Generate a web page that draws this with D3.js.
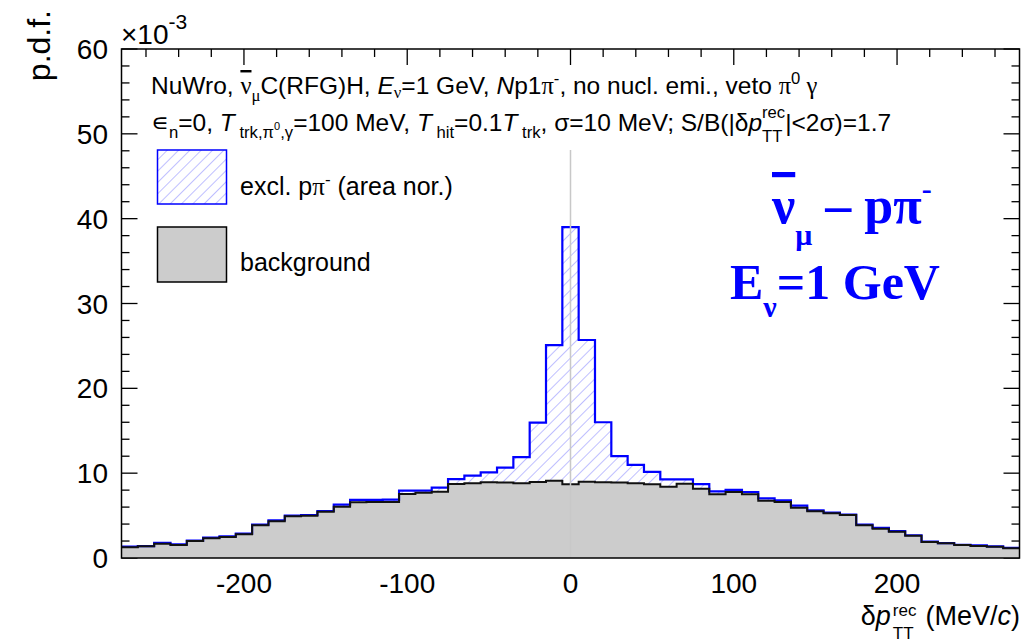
<!DOCTYPE html>
<html>
<head>
<meta charset="utf-8">
<script src="https://cdn.jsdelivr.net/npm/d3@7"></script>
<style>
  body { margin: 0; background: #fff; }
  text { fill: #000; }
</style>
</head>
<body>
<div id="chart"></div>
<script>
// bins of 10 MeV/c from -275 to 275 (centres)
var binCentres = d3.range(-270, 271, 10);

// background (grey), in units of 1e-3
var background = [
  1.26, 1.38, 1.69, 1.53, 2.00, 2.32, 2.48, 2.79, 3.85, 4.33,
  4.91, 4.99, 5.46, 6.05, 6.57, 6.60, 6.60, 7.55, 7.70, 7.80,
  8.72, 8.80, 8.92, 8.90, 8.80, 8.96, 9.10, 8.70, 9.00, 8.92,
  8.90, 8.80, 8.70, 8.41, 8.76, 8.17, 7.51, 7.78, 7.51, 6.76,
  6.60, 5.93, 5.50, 5.27, 5.07, 3.85, 3.46, 3.10, 2.63, 1.89,
  1.73, 1.53, 1.42, 1.33, 1.14
];

// excl. p pi- stacked on top of background (blue outline), units of 1e-3
var exclStacked = [
  1.33, 1.40, 1.80, 1.60, 2.05, 2.40, 2.56, 2.87, 3.93, 4.45,
  4.99, 5.07, 5.54, 6.30, 6.84, 6.84, 6.87, 7.94, 7.94, 8.30,
  9.30, 9.70, 10.10, 10.65, 11.90, 15.96, 25.10, 39.00, 25.70, 16.00,
  12.00, 10.97, 10.15, 9.28, 9.28, 8.70, 7.86, 8.02, 7.78, 7.04,
  6.80, 6.17, 5.62, 5.35, 5.12, 3.93, 3.55, 3.17, 2.68, 1.93,
  1.76, 1.56, 1.48, 1.36, 1.20
];

var xTickLabels = [-200, -100, 0, 100, 200];
var yTickLabels = [0, 10, 20, 30, 40, 50, 60];

var svgWidth = 1022;
var svgHeight = 643;
var sans = "'Liberation Sans', Arial, sans-serif";
var greek = "'Liberation Serif', serif";

var svg = d3.select("#chart")
  .append("svg")
  .attr("width", svgWidth)
  .attr("height", svgHeight)
  .style("font-family", sans);

svg.append("rect").attr("width", svgWidth).attr("height", svgHeight).attr("fill", "#fff");

var x = d3.scaleLinear().domain([-275, 275]).range([121.5, 1019.5]);
var y = d3.scaleLinear().domain([0, 60]).range([558, 49]);

// hatch pattern
var defs = svg.append("defs");
defs.append("pattern")
  .attr("id", "hatch")
  .attr("patternUnits", "userSpaceOnUse")
  .attr("width", 8).attr("height", 8)
  .attr("patternTransform", "rotate(45)")
  .append("line")
  .attr("x1", 0).attr("y1", 0).attr("x2", 0).attr("y2", 8)
  .attr("stroke", "#7070ff")
  .attr("stroke-width", 0.9);

// ticks (drawn first; the filled histogram covers them like in ROOT)
var ticks = svg.append("g").attr("stroke", "#000").attr("stroke-width", 1.3);
d3.range(0, 61, 2).forEach(function(v) {
  var len = v % 10 === 0 ? 16 : 8;
  ticks.append("line").attr("x1", x.range()[0]).attr("x2", x.range()[0] + len)
    .attr("y1", y(v)).attr("y2", y(v));
  ticks.append("line").attr("x1", x.range()[1]).attr("x2", x.range()[1] - len)
    .attr("y1", y(v)).attr("y2", y(v));
});
d3.range(-260, 261, 20).forEach(function(v) {
  var len = v % 100 === 0 ? 16 : 8;
  ticks.append("line").attr("x1", x(v)).attr("x2", x(v))
    .attr("y1", y(60)).attr("y2", y(60) + len);
  ticks.append("line").attr("x1", x(v)).attr("x2", x(v))
    .attr("y1", y(0)).attr("y2", y(0) - len);
});

// step points for a histogram
function stepPoints(values) {
  var pts = [];
  values.forEach(function(v, i) {
    pts.push([binCentres[i] - 5, v]);
    pts.push([binCentres[i] + 5, v]);
  });
  return pts;
}

var area = d3.area()
  .x(d => x(d[0]))
  .y0(y(0))
  .y1(d => y(d[1]));

var line = d3.line()
  .x(d => x(d[0]))
  .y(d => y(d[1]));

var exclPts = stepPoints(exclStacked);
var bkgPts = stepPoints(background);

svg.append("path").attr("d", area(exclPts)).attr("fill", "url(#hatch)");
svg.append("path").attr("d", area(bkgPts)).attr("fill", "#cccccc");
svg.append("path").attr("d", line(exclPts))
  .attr("fill", "none").attr("stroke", "#0000ff").attr("stroke-width", 2.2);
svg.append("path").attr("d", line(bkgPts))
  .attr("fill", "none").attr("stroke", "#111").attr("stroke-width", 2);

// vertical line at 0
svg.append("line")
  .attr("x1", x(0)).attr("x2", x(0))
  .attr("y1", 150).attr("y2", y(0))
  .attr("stroke", "#c8c8c8").attr("stroke-width", 1.5);

// frame
svg.append("rect")
  .attr("x", x.range()[0]).attr("y", y(60))
  .attr("width", x.range()[1] - x.range()[0])
  .attr("height", y(0) - y(60))
  .attr("fill", "none").attr("stroke", "#000").attr("stroke-width", 1.5);

// tick labels
svg.selectAll(".xl").data(xTickLabels).enter().append("text")
  .attr("x", d => x(d)).attr("y", 593)
  .attr("text-anchor", "middle").attr("font-size", 28)
  .text(d => d);

svg.selectAll(".yl").data(yTickLabels).enter().append("text")
  .attr("x", 108).attr("y", d => y(d) + 10)
  .attr("text-anchor", "end").attr("font-size", 28)
  .text(d => d);

// rich text helper: parts = [{t, s: "sub"|"sup", it, back, size, fam, deco, dx}]
// a part with back:true is stacked under the previous one; the next part
// then starts after the wider of the two
function rich(sel, parts, baseSize) {
  var shift = 0;
  var lastLen = 0;
  var pending = 0;
  parts.forEach(function(p) {
    var size = p.size || (p.s ? baseSize * 0.68 : baseSize);
    var target = p.s === "sub" ? baseSize * (p.sd || 0.3) : p.s === "sup" ? -baseSize * (p.su || 0.42) : 0;
    var ts = sel.append("tspan")
      .attr("font-size", size)
      .attr("dy", target - shift)
      .text(p.t);
    var dx = (p.dx || 0) + pending;
    pending = 0;
    if (p.back) dx -= lastLen;
    if (dx) ts.attr("dx", dx);
    if (p.it) ts.attr("font-style", "italic");
    if (p.fam) ts.style("font-family", p.fam);
    if (p.bold) ts.attr("font-weight", "bold");
    if (p.deco) ts.style("text-decoration", p.deco);
    shift = target;
    var len = ts.node().getComputedTextLength();
    if (p.back) pending = Math.max(0, lastLen - len);
    lastLen = len;
  });
}

// info text lines
var infoSize = 24.5;
var t1 = svg.append("text").attr("x", 151).attr("y", 94).attr("font-size", infoSize);
rich(t1, [
  {t: "NuWro, "},
  {t: "\u03bd", fam: greek, deco: "overline"},
  {t: "\u03bc", s: "sub", fam: greek},
  {t: "C(RFG)H, "},
  {t: "E", it: true},
  {t: "\u03bd", s: "sub", fam: greek, sd: 0.15},
  {t: "=1 GeV, "},
  {t: "N", it: true},
  {t: "p1"},
  {t: "\u03c0", fam: greek},
  {t: "-", s: "sup"},
  {t: ", no nucl. emi., veto "},
  {t: "\u03c0", fam: greek},
  {t: "0", s: "sup"},
  {t: " \u03b3", fam: greek}
], infoSize);

var t2 = svg.append("text").attr("x", 151).attr("y", 131).attr("font-size", infoSize);
rich(t2, [
  {t: "\u220a", fam: greek},
  {t: "n", s: "sub"},
  {t: "=0, "},
  {t: "T", it: true},
  {t: " trk,\u03c0", s: "sub"},
  {t: "0", s: "sup", size: 11, su: 0.05},
  {t: ",\u03b3", s: "sub"},
  {t: "=100 MeV, "},
  {t: "T", it: true},
  {t: " hit", s: "sub"},
  {t: "=0.1"},
  {t: "T", it: true},
  {t: " trk", s: "sub"},
  {t: ", \u03c3=10 MeV; S/B(|\u03b4"},
  {t: "p", it: true},
  {t: "rec", s: "sup", su: 0.55},
  {t: "TT", s: "sub", back: true, sd: 0.45},
  {t: "|<2\u03c3)=1.7"}
], infoSize);

// legend
svg.append("rect").attr("x", 157.5).attr("y", 150).attr("width", 69).attr("height", 54)
  .attr("fill", "url(#hatch)").attr("stroke", "#0000ff").attr("stroke-width", 1.5);
svg.append("rect").attr("x", 157.5).attr("y", 227).attr("width", 69).attr("height", 55)
  .attr("fill", "#cccccc").attr("stroke", "#000").attr("stroke-width", 1.5);

var l1 = svg.append("text").attr("x", 240).attr("y", 195).attr("font-size", 25);
rich(l1, [
  {t: "excl. p"},
  {t: "\u03c0", fam: greek},
  {t: "-", s: "sup"},
  {t: " (area nor.)"}
], 25);
svg.append("text").attr("x", 240).attr("y", 271).attr("font-size", 25).text("background");

// big blue label
var b1 = svg.append("text").attr("x", 772).attr("y", 223)
  .style("font-family", greek).attr("font-weight", "bold").style("fill", "#0000ff");
rich(b1, [
  {t: "\u03bd", size: 52, deco: "overline"},
  {t: "\u03bc", s: "sub", size: 30, sd: 0.45},
  {t: " \u2013 p\u03c0", size: 52},
  {t: "-", s: "sup", size: 30, su: 0.5}
], 48);

var b2 = svg.append("text").attr("x", 730).attr("y", 299)
  .style("font-family", greek).attr("font-weight", "bold").style("fill", "#0000ff");
rich(b2, [
  {t: "E", size: 50},
  {t: "\u03bd", s: "sub", size: 30, sd: 0.38},
  {t: "=1 GeV", size: 50}
], 48);

// axis titles
var xt = svg.append("text").attr("x", 1020).attr("y", 625)
  .attr("text-anchor", "end").attr("font-size", 27);
rich(xt, [
  {t: "\u03b4"},
  {t: "p", it: true},
  {t: "rec", s: "sup", size: 17, su: 0.34, dx: 2},
  {t: "TT", s: "sub", size: 17, back: true, sd: 0.52},
  {t: "(MeV/", dx: 9},
  {t: "c", it: true},
  {t: ")"}
], 27);

svg.append("text")
  .attr("transform", "translate(50, 10) rotate(-90)")
  .attr("text-anchor", "end").attr("font-size", 32)
  .text("p.d.f.");

var ex = svg.append("text").attr("x", 121).attr("y", 44).attr("font-size", 28);
rich(ex, [
  {t: "\u00d710"},
  {t: "-3", s: "sup", size: 21, su: 0.55}
], 28);
</script>
</body>
</html>
